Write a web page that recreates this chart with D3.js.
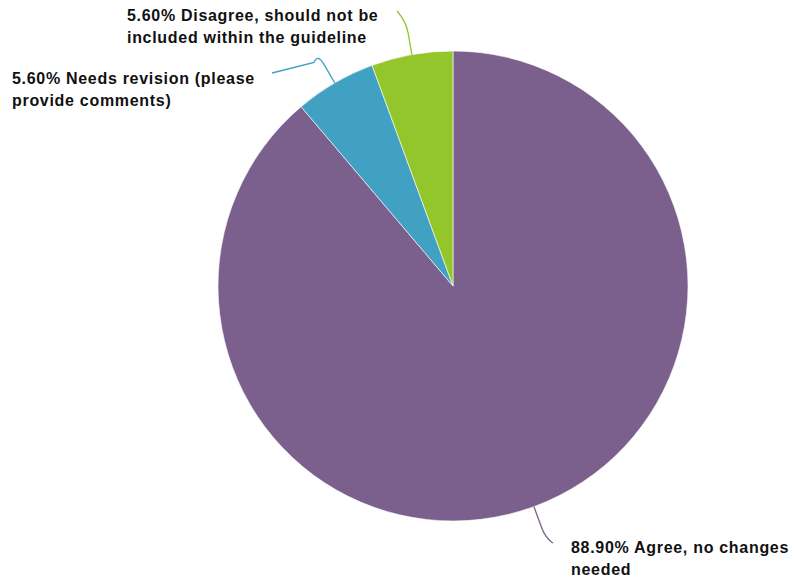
<!DOCTYPE html>
<html>
<head>
<meta charset="utf-8">
<script src="https://cdn.jsdelivr.net/npm/d3@7"></script>
<style>
  html, body { margin: 0; padding: 0; background: #ffffff; }
  svg { display: block; }
  .lbl { font-family: "Liberation Sans", Arial, Helvetica, sans-serif; font-weight: bold; font-size: 16px; letter-spacing: 0.7px; fill: #111111; }
</style>
</head>
<body>
<svg id="chart" width="794" height="579"></svg>
<script>
// ---- data ----
const categories = [
  "Agree, no changes needed",
  "Needs revision (please provide comments)",
  "Disagree, should not be included within the guideline"
];
const values = [88.90, 5.60, 5.60];
const colors = ["#7b5f8d", "#41a1c2", "#93c62a"];

// ---- layout (positions only) ----
const cx = 453, cy = 286, R = 235;
// words on first line, label anchor, leader end, line bend radii
const labelLayout = [
  { words: 4, x: 571, y: 553, end: [553, 543], tail: null },
  { words: 4, x: 12,  y: 84,  end: [314, 62.5], tail: [272, 73] },
  { words: 5, x: 127, y: 21,  end: [397, 11], tail: null }
];
const lineGap = 21.5;

const svg = d3.select("#chart");
const g = svg.append("g").attr("transform", `translate(${cx},${cy})`);

const pie = d3.pie().sort(null).value(d => d)(values);
const arc = d3.arc().innerRadius(0).outerRadius(R);

g.selectAll("path.slice")
  .data(pie)
  .join("path")
  .attr("class", "slice")
  .attr("d", arc)
  .attr("fill", (d, i) => colors[i])
  .attr("stroke", "#ffffff")
  .attr("stroke-width", 0.6);

// leader lines
function pt(angle, r) {
  return [cx + r * Math.sin(angle), cy - r * Math.cos(angle)];
}
const fmt = d3.format(".2f");

pie.forEach((d, i) => {
  const a = (d.startAngle + d.endAngle) / 2;
  const L = labelLayout[i];
  const p0 = pt(a, R);
  const pA = pt(a, R + 22);
  const pB = pt(a, R + 34);
  let path = `M${p0[0]},${p0[1]} L${pA[0]},${pA[1]} Q${pB[0]},${pB[1]} ${L.end[0]},${L.end[1]}`;
  if (L.tail) path += ` L${L.tail[0]},${L.tail[1]}`;
  svg.append("path")
    .attr("d", path)
    .attr("fill", "none")
    .attr("stroke", colors[i])
    .attr("stroke-width", 1.3);

  const words = (fmt(values[i]) + "% " + categories[i]).split(" ");
  const lines = [words.slice(0, L.words).join(" "), words.slice(L.words).join(" ")];
  const t = svg.append("text").attr("class", "lbl");
  lines.forEach((ln, k) => {
    t.append("tspan").attr("x", L.x).attr("y", L.y + k * lineGap).text(ln);
  });
});
</script>
</body>
</html>
